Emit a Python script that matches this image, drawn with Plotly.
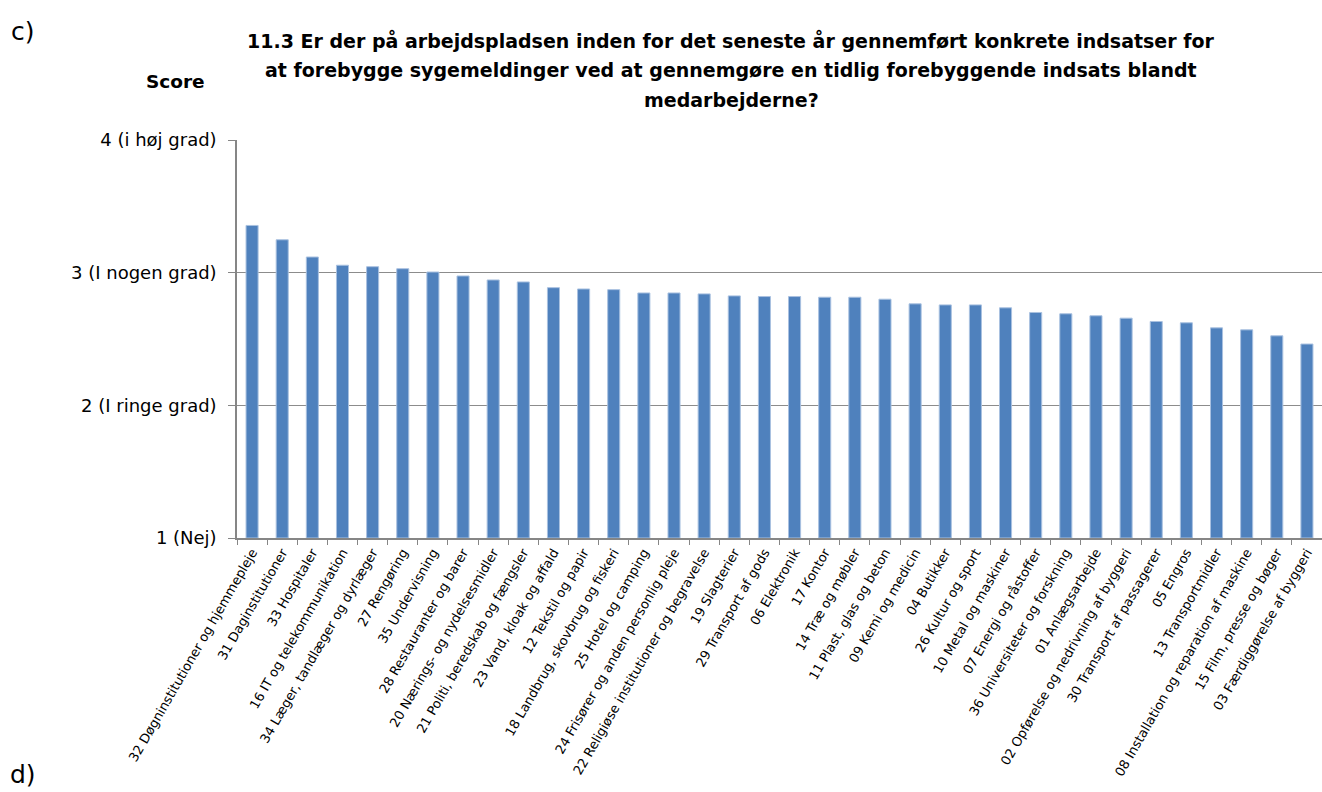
import plotly.graph_objects as go

categories = [
    "32 Døgninstitutioner og hjemmepleje",
    "31 Daginstitutioner",
    "33 Hospitaler",
    "16 IT og telekommunikation",
    "34 Læger, tandlæger og dyrlæger",
    "27 Rengøring",
    "35 Undervisning",
    "28 Restauranter og barer",
    "20 Nærings- og nydelsesmidler",
    "21 Politi, beredskab og fængsler",
    "23 Vand, kloak og affald",
    "12 Tekstil og papir",
    "18 Landbrug, skovbrug og fiskeri",
    "25 Hotel og camping",
    "24 Frisører og anden personlig pleje",
    "22 Religiøse institutioner og begravelse",
    "19 Slagterier",
    "29 Transport af gods",
    "06 Elektronik",
    "17 Kontor",
    "14 Træ og møbler",
    "11 Plast, glas og beton",
    "09 Kemi og medicin",
    "04 Butikker",
    "26 Kultur og sport",
    "10 Metal og maskiner",
    "07 Energi og råstoffer",
    "36 Universiteter og forskning",
    "01 Anlægsarbejde",
    "02 Opførelse og nedrivning af byggeri",
    "30 Transport af passagerer",
    "05 Engros",
    "13 Transportmidler",
    "08 Installation og reparation af maskine",
    "15 Film, presse og bøger",
    "03 Færdiggørelse af byggeri",
]

scores = [
    3.356, 3.248, 3.118, 3.056, 3.045, 3.030, 3.005, 2.975, 2.945, 2.930,
    2.887, 2.877, 2.872, 2.847, 2.847, 2.840, 2.825, 2.820, 2.820, 2.815,
    2.815, 2.800, 2.765, 2.757, 2.757, 2.735, 2.700, 2.690, 2.675, 2.657,
    2.632, 2.622, 2.584, 2.569, 2.524, 2.462,
]

y_tickvals = [1, 2, 3, 4]
y_ticktext = ["1 (Nej)", "2 (I ringe grad)", "3 (I nogen grad)", "4 (i høj grad)"]

title_lines = [
    "11.3 Er der på arbejdspladsen inden for det seneste år gennemført konkrete indsatser for",
    "at forebygge sygemeldinger ved at gennemgøre en tidlig forebyggende indsats blandt",
    "medarbejderne?",
]

W, H = 1322, 792
L, R, T, B = 237, 0, 140, 253.5
FONT = "DejaVu Sans, sans-serif"


def px_x(p):
    return (p - L) / (W - L - R)


def px_y(p):
    return (H - B - p) / (H - B - T)


fig = go.Figure(
    go.Bar(
        x=categories,
        y=[s - 1 for s in scores],
        base=1,
        marker=dict(color="#4F81BD", line=dict(color="#A9C1E0", width=1)),
        hoverinfo="x+text",
        hovertext=[f"{s:.2f}" for s in scores],
    )
)

annotations = [
    dict(text="c)", x=px_x(23), y=px_y(31), font=dict(size=25)),
    dict(text="d)", x=px_x(23), y=px_y(775), font=dict(size=25)),
    dict(text="<b>Score</b>", x=px_x(175), y=px_y(81), font=dict(size=18.5)),
]
for i, line in enumerate(title_lines):
    annotations.append(
        dict(text=f"<b>{line}</b>", x=px_x(731), y=px_y(40 + 30 * i), font=dict(size=19))
    )
for a in annotations:
    a.update(xref="paper", yref="paper", showarrow=False,
             xanchor="center", yanchor="middle")
    a["font"].update(family=FONT, color="#000000")

fig.update_layout(
    width=W,
    height=H,
    margin=dict(l=L, r=R, t=T, b=B, pad=0),
    paper_bgcolor="white",
    plot_bgcolor="white",
    bargap=0.6,
    showlegend=False,
    font=dict(family=FONT, color="#000000"),
    annotations=annotations,
    xaxis=dict(
        type="category",
        tickangle=-60,
        tickfont=dict(size=13, family=FONT),
        ticks="outside",
        tickson="boundaries",
        ticklen=5,
        tickcolor="#868686",
        showline=True,
        linecolor="#868686",
        linewidth=1.5,
        showgrid=False,
        automargin=False,
    ),
    yaxis=dict(
        range=[1, 4],
        tickvals=y_tickvals,
        ticktext=y_ticktext,
        tickfont=dict(size=18, family=FONT),
        ticks="outside",
        ticklen=7,
        tickcolor="#868686",
        showline=True,
        linecolor="#868686",
        linewidth=1.5,
        showgrid=True,
        gridcolor="#8C8C8C",
        gridwidth=1,
        zeroline=False,
        automargin=False,
        ticklabelstandoff=8,
    ),
)

fig.write_html("out.html")
